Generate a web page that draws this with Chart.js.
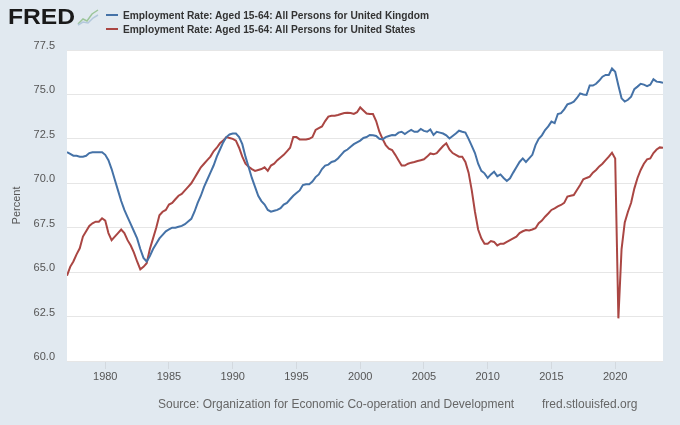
<!DOCTYPE html>
<html>
<head>
<meta charset="utf-8">
<script src="https://cdn.jsdelivr.net/npm/chart.js@4.4.1/dist/chart.umd.min.js"></script>
<style>
  html, body { margin: 0; padding: 0; background: #e1e9f0; }
  #wrap { position: relative; width: 680px; height: 425px; overflow: hidden; font-family: "Liberation Sans", Arial, sans-serif; }
  #chart { position: absolute; left: 0; top: 0; }
  .logo { position: absolute; left: 8px; top: 4px; font-size: 22px; font-weight: bold; color: #1a1a1a; transform: scaleX(1.12); transform-origin: left top; }
  .icon { position: absolute; left: 77px; top: 8px; }
  .legend { position: absolute; left: 106px; top: 9px; font-size: 10.2px; font-weight: bold; color: #333; line-height: 13.5px; }
  .legend .sw { display: inline-block; width: 12px; height: 2px; margin-right: 5px; vertical-align: middle; position: relative; top: -1px; }
  .source { position: absolute; left: 158px; top: 397px; font-size: 12px; color: #666; }
  .site { position: absolute; left: 542px; top: 397px; font-size: 12px; color: #666; }
</style>
</head>
<body>
<div id="wrap">
  <canvas id="chart" width="680" height="425"></canvas>
  <div class="logo">FRED</div>
  <svg class="icon" width="22" height="18" viewBox="0 0 22 18">
    <polyline points="1,16 6,11 10,13 15,6 21,2" fill="none" stroke="#9cc59a" stroke-width="1.5"/>
    <polyline points="1,17 6,14 11,15 16,10 21,7" fill="none" stroke="#b3c8dc" stroke-width="1.5"/>
  </svg>
  <div class="legend">
    <div><span class="sw" style="background:#4572a7"></span>Employment Rate: Aged 15-64: All Persons for United Kingdom</div>
    <div><span class="sw" style="background:#aa4643"></span>Employment Rate: Aged 15-64: All Persons for United States</div>
  </div>
  <div class="source">Source: Organization for Economic Co-operation and Development</div>
  <div class="site">fred.stlouisfed.org</div>
</div>
<script>
var startYear = 1977; // quarterly, 1977 Q1 .. 2023 Q4
var xTickYears = [1980, 1985, 1990, 1995, 2000, 2005, 2010, 2015, 2020];
var yTicks = [60, 62.5, 65, 67.5, 70, 72.5, 75, 77.5];

var ukValues = [
  71.75, 71.65, 71.55, 71.55,  // 1977
  71.5, 71.5, 71.55, 71.7,
  71.75, 71.75, 71.75, 71.75,
  71.6, 71.3, 70.8, 70.2,      // 1980
  69.6, 69.0, 68.5, 68.1,
  67.7, 67.3, 66.9, 66.3,
  65.8, 65.6, 65.9, 66.3,
  66.6, 66.9, 67.1, 67.3,
  67.4, 67.5, 67.5, 67.55,     // 1985
  67.6, 67.7, 67.85, 68.0,
  68.4, 68.9, 69.3, 69.8,
  70.2, 70.6, 71.0, 71.5,
  71.9, 72.3, 72.6, 72.75,
  72.8, 72.8, 72.6, 72.2,      // 1990
  71.5, 70.9, 70.3, 69.8,
  69.3, 69.0, 68.8, 68.5,
  68.4, 68.45, 68.5, 68.6,
  68.8, 68.9, 69.1, 69.3,
  69.45, 69.6, 69.9, 69.95,    // 1995
  69.95, 70.1, 70.35, 70.5,
  70.8, 71.0, 71.05, 71.2,
  71.25, 71.4, 71.6, 71.8,
  71.9, 72.05, 72.2, 72.3,
  72.4, 72.55, 72.6, 72.72,    // 2000
  72.7, 72.66, 72.5, 72.47,
  72.6, 72.66, 72.72, 72.7,
  72.85, 72.9, 72.77, 72.9,
  73.0, 72.9, 72.9, 73.06,
  72.95, 72.9, 73.03, 72.72,   // 2005
  72.9, 72.85, 72.8, 72.7,
  72.52, 72.66, 72.8, 72.96,
  72.9, 72.85, 72.5, 72.1,
  71.7, 71.1, 70.7, 70.56,
  70.3, 70.5, 70.65, 70.4,     // 2010
  70.5, 70.3, 70.13, 70.28,
  70.6, 70.9, 71.2, 71.4,
  71.2, 71.4, 71.6, 72.15,
  72.5, 72.7, 73.0, 73.2,
  73.47, 73.38, 73.9, 73.95,   // 2015
  74.16, 74.44, 74.5, 74.59,
  74.8, 75.06, 75.0, 74.97,
  75.5, 75.5, 75.6, 75.78,
  76.0, 76.1, 76.1, 76.46,
  76.28, 75.5, 74.78, 74.6,    // 2020
  74.7, 74.87, 75.3, 75.44,
  75.6, 75.55, 75.47, 75.55,
  75.85, 75.72, 75.7, 75.66
];

var usValues = [
  64.8, 65.3, 65.6, 66.0,      // 1977
  66.34, 67.0, 67.3, 67.6,
  67.75, 67.84, 67.84, 68.03,
  67.9, 67.2, 66.8, 67.0,      // 1980
  67.2, 67.4, 67.2, 66.8,
  66.5, 66.1, 65.6, 65.16,
  65.3, 65.5, 66.3, 66.9,
  67.5, 68.2, 68.4, 68.5,
  68.8, 68.9, 69.1, 69.3,      // 1985
  69.4, 69.6, 69.8, 70.0,
  70.3, 70.6, 70.9, 71.1,
  71.3, 71.5, 71.8, 72.0,
  72.25, 72.4, 72.6, 72.55,
  72.5, 72.4, 72.0, 71.5,      // 1990
  71.1, 70.93, 70.8, 70.7,
  70.75, 70.8, 70.9, 70.7,
  71.0, 71.1, 71.3, 71.45,
  71.6, 71.8, 72.0, 72.6,
  72.6, 72.47, 72.47, 72.47,   // 1995
  72.5, 72.6, 73.0, 73.1,
  73.2, 73.5, 73.75, 73.8,
  73.8, 73.84, 73.9, 73.95,
  73.97, 73.95, 73.9, 74.0,
  74.27, 74.1, 73.93, 73.9,    // 2000
  73.9, 73.5, 72.9, 72.5,
  72.15, 71.95, 71.87, 71.6,
  71.3, 71.0, 71.0, 71.1,
  71.16, 71.2, 71.25, 71.3,
  71.35, 71.5, 71.68, 71.63,   // 2005
  71.7, 71.9, 72.1, 72.25,
  71.9, 71.7, 71.6, 71.5,
  71.5, 71.2, 70.6, 69.6,
  68.4, 67.4, 66.9, 66.6,
  66.6, 66.75, 66.7, 66.5,     // 2010
  66.6, 66.6, 66.7, 66.8,
  66.9, 67.0, 67.2, 67.3,
  67.37, 67.35, 67.4, 67.47,
  67.75, 67.9, 68.12, 68.3,
  68.5, 68.59, 68.7, 68.78,    // 2015
  68.9, 69.25, 69.3, 69.34,
  69.62, 69.9, 70.22, 70.3,
  70.37, 70.6, 70.75, 70.95,
  71.1, 71.3, 71.5, 71.72,
  71.4, 62.4, 66.3, 67.8,      // 2020
  68.4, 68.9, 69.7, 70.3,
  70.75, 71.1, 71.35, 71.4,
  71.7, 71.9, 72.02, 72.0
];

function toPoints(values) {
  return values.map(function (v, i) { return { x: startYear + i / 4, y: v }; });
}

var plotBackground = {
  id: 'plotBackground',
  beforeDraw: function (chart) {
    var a = chart.chartArea, c = chart.ctx;
    c.save();
    c.fillStyle = '#ffffff';
    c.fillRect(a.left, a.top, a.right - a.left, a.bottom - a.top);
    c.restore();
  }
};

var ctx = document.getElementById('chart');
new Chart(ctx, {
  type: 'line',
  data: {
    datasets: [
      { label: 'United Kingdom', data: toPoints(ukValues), borderColor: '#4572a7', borderWidth: 2, pointRadius: 0, tension: 0 },
      { label: 'United States', data: toPoints(usValues), borderColor: '#aa4643', borderWidth: 2, pointRadius: 0, tension: 0 }
    ]
  },
  options: {
    responsive: false,
    animation: false,
    layout: { padding: { top: 50, right: 17, bottom: 44, left: 0 } },
    plugins: { legend: { display: false }, tooltip: { enabled: false } },
    scales: {
      x: {
        type: 'linear',
        min: startYear,
        max: startYear + (ukValues.length - 1) / 4,
        afterBuildTicks: function (scale) {
          scale.ticks = xTickYears.map(function (v) { return { value: v }; });
        },
        afterFit: function (scale) { scale.height = 20; },
        border: { display: false },
        grid: { drawOnChartArea: false, drawTicks: true, tickLength: 8, color: '#d3d9df' },
        ticks: {
          padding: 1,
          maxRotation: 0,
          color: '#555',
          font: { family: '"Liberation Sans", Arial, sans-serif', size: 11 },
          callback: function (v) { return String(v); }
        }
      },
      y: {
        min: yTicks[0],
        max: yTicks[yTicks.length - 1],
        afterBuildTicks: function (scale) {
          scale.ticks = yTicks.map(function (v) { return { value: v }; });
        },
        afterFit: function (scale) { scale.width = 67; },
        border: { display: false },
        grid: { drawTicks: false, color: '#e6e6e6' },
        title: {
          display: true,
          text: 'Percent',
          color: '#555',
          padding: { top: 10, bottom: 0 },
          font: { family: '"Liberation Sans", Arial, sans-serif', size: 11 }
        },
        ticks: {
          padding: 12,
          labelOffset: -4,
          color: '#555',
          font: { family: '"Liberation Sans", Arial, sans-serif', size: 11 },
          callback: function (v) { return Number(v).toFixed(1); }
        }
      }
    }
  },
  plugins: [plotBackground]
});
</script>
</body>
</html>
